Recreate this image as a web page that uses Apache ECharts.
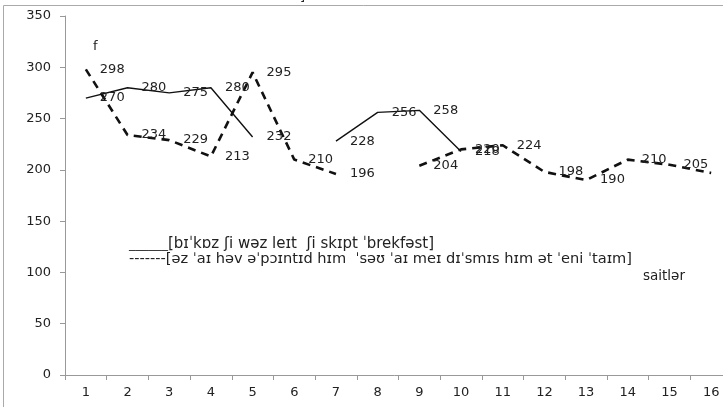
<!DOCTYPE html>
<html><head><meta charset="utf-8">
<script src="https://cdn.jsdelivr.net/npm/echarts@6/dist/echarts.min.js"></script>
<style>html,body{margin:0;padding:0;background:#fff}#c{width:723px;height:407px}</style>
</head><body><div id="c"></div>
<script>
const categories = ['1','2','3','4','5','6','7','8','9','10','11','12','13','14','15','16'];
const solidName = '[bɪˈkɒz ʃi wəz leɪt  ʃi skɪpt ˈbrekfəst]';
const dashedName = '[əz ˈaɪ həv əˈpɔɪntɪd hɪm  ˈsəʊ ˈaɪ meɪ dɪˈsmɪs hɪm ət ˈeni ˈtaɪm]';
const solidValues = [270, 280, 275, 280, 232, null, 228, 256, 258, 218, null, null, null, null, null, null];
const dashedValues = [298, 234, 229, 213, 295, 210, 196, null, 204, 220, 224, 198, 190, 210, 205, 197];
const yTicks = [0, 50, 100, 150, 200, 250, 300, 350];

const font = 'DejaVu Sans';
const chart = echarts.init(document.getElementById('c'));
const lbl = {show: true, position: 'right', distance: 14, color: '#222', fontSize: 13, fontFamily: font};
chart.setOption({
  animation: false,
  grid: {left: 65, top: 16, height: 359, width: 667, outerBoundsMode: 'none', containLabel: false},
  legend: {
    orient: 'vertical', left: 124, top: 232, itemGap: 0, icon: 'none', itemWidth: 0, itemHeight: 13,
    textStyle: {fontFamily: font, fontSize: 15, lineHeight: 14, color: '#222', padding: [0,0,0,-5],
      rich: {
        u: {fontFamily: font, fontSize: 13, lineHeight: 14, color: '#222'},
        d: {fontFamily: font, fontSize: 14.6, lineHeight: 14, color: '#222'}
      }},
    data: [solidName, dashedName],
    formatter: n => n === solidName ? '{u|______}' + n : '{d|-------' + n + '}'
  },
  xAxis: {
    type: 'category', data: categories, boundaryGap: true,
    axisLine: {lineStyle: {color: '#999'}},
    axisTick: {show: true, length: 5, lineStyle: {color: '#999'}},
    axisLabel: {color: '#222', fontSize: 13, fontFamily: font, margin: 11}
  },
  yAxis: {
    type: 'value', min: yTicks[0], max: yTicks[yTicks.length-1], interval: 50,
    axisLine: {show: true, lineStyle: {color: '#999'}},
    axisTick: {show: true, length: 5, lineStyle: {color: '#999'}},
    splitLine: {show: false},
    axisLabel: {color: '#222', fontSize: 13, fontFamily: font, margin: 14}
  },
  series: [
    {name: solidName, type: 'line', data: solidValues, symbol: 'circle', symbolSize: 0, showSymbol: true, connectNulls: false,
     lineStyle: {color: '#111', width: 1.4}, itemStyle: {color: '#111'}, label: lbl},
    {name: dashedName, type: 'line', data: dashedValues, symbol: 'circle', symbolSize: 0, showSymbol: true, connectNulls: false,
     lineStyle: {color: '#111', width: 2.6, type: [8, 6]}, itemStyle: {color: '#111'}, label: lbl}
  ],
  graphic: [
    {type: 'rect', shape: {x: 3.5, y: 5.5, width: 740, height: 420}, style: {fill: 'none', stroke: '#aaa', lineWidth: 1}, silent: true},
    {type: 'text', left: 300, top: -9, style: {text: ']', font: '13px ' + font, fill: '#222'}},
    {type: 'text', left: 93, top: 40, style: {text: 'f', font: '13px ' + font, fill: '#222'}},
    {type: 'text', left: 643, top: 269, style: {text: 'saitlər', font: '13.5px ' + font, fill: '#222'}}
  ]
});
</script></body></html>
